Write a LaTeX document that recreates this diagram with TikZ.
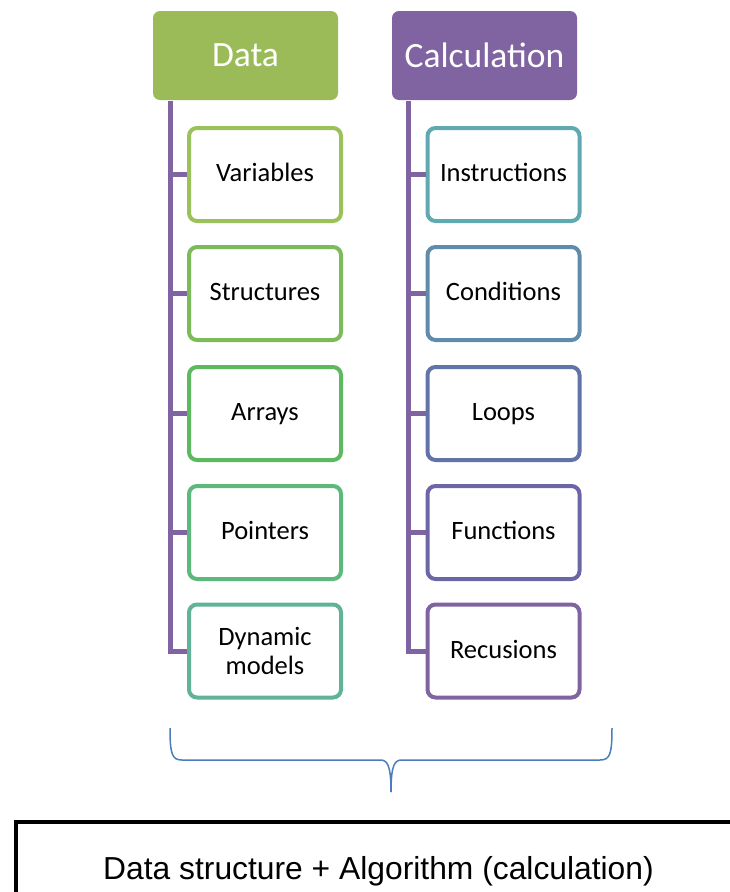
\documentclass[tikz,border=0pt]{standalone}
\usepackage{fontspec}
\setmainfont{Carlito}
\newfontfamily\arialfont{Liberation Sans}
\definecolor{hgreen}{HTML}{9BBB59}
\definecolor{hpurple}{HTML}{8064A2}
\definecolor{cA}{HTML}{9BC15A}
\definecolor{cB}{HTML}{7CBB5A}
\definecolor{cC}{HTML}{5DB95F}
\definecolor{cD}{HTML}{5DB87C}
\definecolor{cE}{HTML}{60B397}
\definecolor{cF}{HTML}{60A9B0}
\definecolor{cG}{HTML}{5E8CAA}
\definecolor{cH}{HTML}{6173A8}
\definecolor{cI}{HTML}{6C66A6}
\definecolor{cJ}{HTML}{8064A2}
\definecolor{bracecol}{HTML}{4A7EBB}
\begin{document}
\begin{tikzpicture}[x=1pt,y=-1pt,
  head/.style={fill=#1, rounded corners=7pt, minimum width=185pt, minimum height=89pt,
    text=white, inner sep=0pt, font=\fontsize{35.5}{40}\selectfont},
  child/.style={draw=#1, line width=4pt, rounded corners=8pt, fill=white,
    minimum width=152pt, minimum height=93pt, align=center, inner sep=0pt,
    font=\fontsize{26.5}{29}\selectfont},
  oneline/.style={text height=18pt, text depth=3.6pt},
  conn/.style={draw=hpurple, line width=5pt, line join=miter},
  bracestyle/.style={draw=bracecol, line width=1.5pt}]
\useasboundingbox (0,0) rectangle (729,892);

% headers
\node[head=hgreen] (dh) at (245.5,55.5) {Data};
\node[head=hpurple] (ch) at (484.5,55.5) {Calculation};

% spine coordinates
\coordinate (dv) at (170,101);
\coordinate (cv) at (408,101);

% child boxes
\node[child=cA, oneline] (d1) at (265,174.5) {Variables};
\node[child=cB, oneline] (d2) at (265,293.5) {Structures};
\node[child=cC, oneline] (d3) at (265,413.5) {Arrays};
\node[child=cD, oneline] (d4) at (265,532.5) {Pointers};
\node[child=cE] (d5) at (265,651) {Dynamic\\models};

\node[child=cF, oneline] (c1) at (503.5,174.5) {Instructions};
\node[child=cG, oneline] (c2) at (503.5,293.5) {Conditions};
\node[child=cH, oneline] (c3) at (503.5,413.5) {Loops};
\node[child=cI, oneline] (c4) at (503.5,532.5) {Functions};
\node[child=cJ, oneline] (c5) at (503.5,651) {Recusions};

% connectors
\draw[conn] (dv) |- (d5.west);
\foreach \n in {d1,d2,d3,d4} \draw[conn] (\n.west) -- (\n.west -| dv);
\draw[conn] (cv) |- (c5.west);
\foreach \n in {c1,c2,c3,c4} \draw[conn] (\n.west) -- (\n.west -| cv);

% brace
\coordinate (bl) at (170,728);
\coordinate (br) at (612,728);
\coordinate (bt) at (391,792);
\draw[bracestyle] (bl) .. controls (170,754) and (172,760) .. (182,760)
  -- (380,760) .. controls (387,760) and (391,764) .. (bt);
\draw[bracestyle] (br) .. controls (612,754) and (610,760) .. (600,760)
  -- (402,760) .. controls (395,760) and (391,764) .. (bt);

% result box
\draw[line width=4.5pt, line join=miter] (16,905) -- (16,822) -- (745,822);
\node[anchor=base, inner sep=0pt, font=\arialfont\fontsize{31.8}{36}\selectfont] (res) at (378.5,879) {Data structure + Algorithm (calculation)};
\end{tikzpicture}
\end{document}
